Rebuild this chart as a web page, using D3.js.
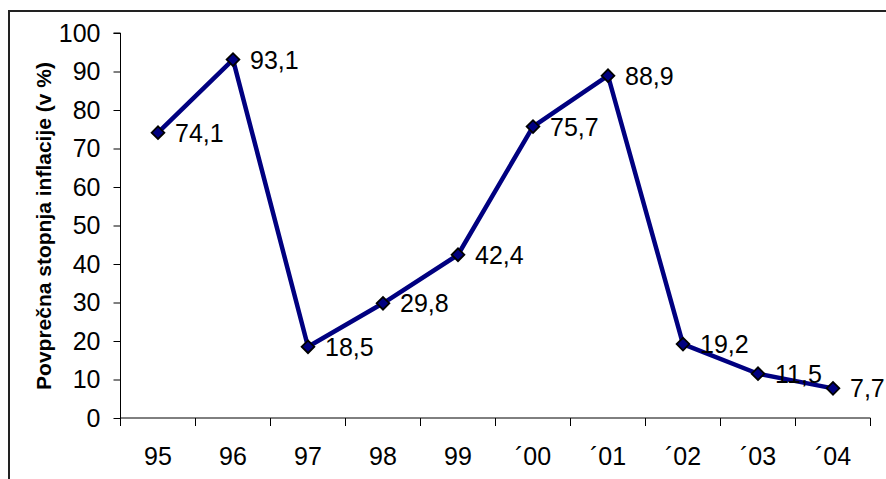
<!DOCTYPE html>
<html><head><meta charset="utf-8">
<script src="https://cdn.jsdelivr.net/npm/d3@7/dist/d3.min.js"></script>
<style>html,body{margin:0;padding:0;background:#fff;overflow:hidden}</style>
</head><body>
<script>
const categories = ["95","96","97","98","99","´00","´01","´02","´03","´04"];
const values = [74.1, 93.1, 18.5, 29.8, 42.4, 75.7, 88.9, 19.2, 11.5, 7.7];
const labels = ["74,1","93,1","18,5","29,8","42,4","75,7","88,9","19,2","11,5","7,7"];
const yTicks = [0,10,20,30,40,50,60,70,80,90,100];
const yTitle = "Povprečna stopnja inflacije (v %)";

(function () {
const W = 886, H = 479;
const svg = d3.select("body").append("svg").attr("width", W).attr("height", H);
svg.append("rect").attr("x", 9).attr("y", 11).attr("width", 900).attr("height", 500)
  .attr("fill", "none").attr("stroke", "#222").attr("stroke-width", 2);

const mLeft = 120.5, mRight = 870.5, mTop = 33, mBottom = 418;
const x = d3.scaleBand().domain(categories).range([mLeft, mRight]);
const y = d3.scaleLinear().domain([0, 100]).range([mBottom, mTop]);

const font = "Liberation Sans, Arial, sans-serif";
const fs = 25;

const yAxis = svg.append("g").attr("transform", `translate(${mLeft},0)`)
  .call(d3.axisLeft(y).tickValues(yTicks).tickSize(7).tickPadding(13));
yAxis.select(".domain").attr("stroke", "#000").attr("d", `M-7,${y(100)}H0V${mBottom}`);
yAxis.selectAll("text").attr("font-family", font).attr("font-size", fs).attr("fill", "#000");
yAxis.selectAll("line").attr("stroke", "#000");

const xAxis = svg.append("g").attr("transform", `translate(0,${mBottom})`)
  .call(d3.axisBottom(x).tickSize(0).tickPadding(29));
xAxis.select(".domain").attr("stroke", "#000").attr("d", `M${mLeft},0H${mRight}`);
xAxis.selectAll("text").attr("font-family", font).attr("font-size", fs).attr("fill", "#000");
const edges = categories.map(c => x(c)).concat([mRight]);
svg.append("g").selectAll("line").data(edges).join("line")
  .attr("x1", d => d).attr("x2", d => d).attr("y1", mBottom).attr("y2", mBottom + 8)
  .attr("stroke", "#000");

svg.append("text").attr("transform", `translate(51,226) rotate(-90)`)
  .attr("text-anchor", "middle").attr("font-family", font).attr("font-weight", "bold")
  .attr("font-size", 21).text(yTitle);

const cx = i => x(categories[i]) + x.bandwidth() / 2;
const line = d3.line().x((d, i) => cx(i)).y(d => y(d));
svg.append("path").datum(values).attr("d", line).attr("fill", "none")
  .attr("stroke", "#000080").attr("stroke-width", 4.5).attr("stroke-linejoin", "round");

svg.append("g").selectAll("path").data(values).join("path")
  .attr("transform", (d, i) => `translate(${cx(i)},${y(d)}) rotate(45)`)
  .attr("d", "M-4.5,-4.5H4.5V4.5H-4.5Z")
  .attr("fill", "#000080").attr("stroke", "#000").attr("stroke-width", 1.8);

svg.append("g").selectAll("text").data(values).join("text")
  .attr("x", (d, i) => cx(i) + 17).attr("y", d => y(d) + 9)
  .attr("font-family", font).attr("font-size", fs).attr("fill", "#000")
  .text((d, i) => labels[i]);
})();
</script>
</body></html>
